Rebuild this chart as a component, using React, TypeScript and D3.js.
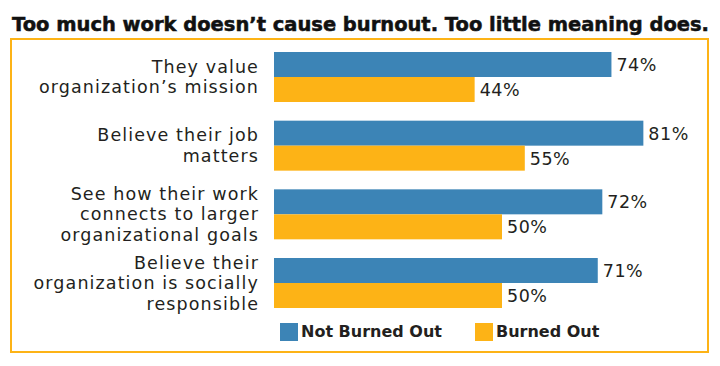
import * as d3 from "d3";

const categories: string[][] = [
  ["They value", "organization’s mission"],
  ["Believe their job", "matters"],
  ["See how their work", "connects to larger", "organizational goals"],
  ["Believe their", "organization is socially", "responsible"],
];
const notBurnedOut = [74, 81, 72, 71];
const burnedOut = [44, 55, 50, 50];
const seriesNames = ["Not Burned Out", "Burned Out"];

const BLUE = "#3c84b6";
const ORANGE = "#fdb316";
const TEXT = "#231f20";

export default function App() {
  const width = 720;
  const height = 366;

  // x: percent -> pixels
  const x = d3.scaleLinear().domain([0, 100]).range([274, 730]);

  // y: one band per category, split in two for the series
  const y = d3
    .scaleBand<number>()
    .domain(d3.range(categories.length))
    .range([52, 308])
    .paddingInner(0.272);

  const sub = d3
    .scaleBand<number>()
    .domain([0, 1])
    .range([0, y.bandwidth()]);

  const series = [notBurnedOut, burnedOut];
  const colors = [BLUE, ORANGE];
  const lineH = 20.5;

  return (
    <svg
      width={width}
      height={height}
      style={{ position: "absolute", left: 0, top: 0, background: "#fff" }}
      fontFamily="'DejaVu Sans', sans-serif"
    >
      {/* title */}
      <text
        x={12}
        y={31}
        fontSize={19}
        fontWeight="bold"
        fill="#111"
        stroke="#111"
        strokeWidth={0.5}
        textLength={697}
        lengthAdjust="spacingAndGlyphs"
      >
        Too much work doesn’t cause burnout. Too little meaning does.
      </text>

      {/* frame */}
      <rect x={11} y={39} width={697} height={313} fill="none" stroke={ORANGE} strokeWidth={2} />

      {categories.map((lines, i) => {
        const cy = (y(i) ?? 0) + y.bandwidth() / 2;
        return (
          <g key={i}>
            {lines.map((ln, j) => (
              <text
                key={j}
                x={259}
                y={cy + (j - (lines.length - 1) / 2) * lineH + 6}
                textAnchor="end"
                fontSize={17.5}
                letterSpacing={1.1}
                fill={TEXT}
              >
                {ln}
              </text>
            ))}
            {series.map((vals, s) => {
              const by = (y(i) ?? 0) + (sub(s) ?? 0);
              return (
                <g key={s}>
                  <rect
                    x={x(0)}
                    y={by}
                    width={x(vals[i]) - x(0)}
                    height={sub.bandwidth()}
                    fill={colors[s]}
                  />
                  <text
                    x={x(vals[i]) + 5}
                    y={by + sub.bandwidth() / 2 + 6.5}
                    fontSize={17.5}
                    letterSpacing={0.5}
                    fill={TEXT}
                  >
                    {vals[i]}%
                  </text>
                </g>
              );
            })}
          </g>
        );
      })}

      {/* legend */}
      {seriesNames.map((name, s) => {
        const lx = [280, 475][s];
        return (
          <g key={name}>
            <rect x={lx} y={323} width={18} height={18} fill={colors[s]} />
            <text x={lx + 21} y={337} fontSize={16} fontWeight="bold" fill={TEXT}>
              {name}
            </text>
          </g>
        );
      })}
    </svg>
  );
}
